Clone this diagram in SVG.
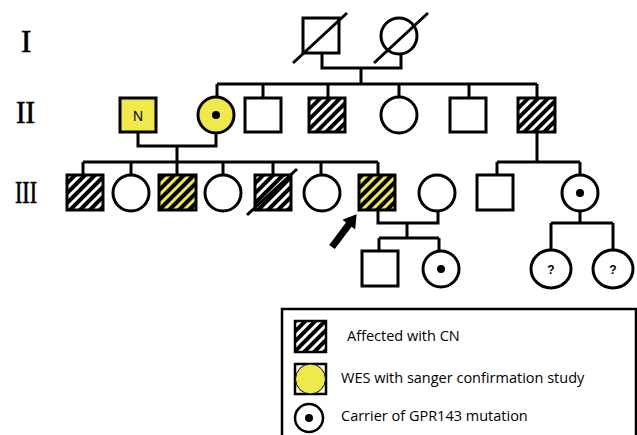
<svg xmlns="http://www.w3.org/2000/svg" width="637" height="435" viewBox="0 0 637 435">
<defs>
<pattern id="hatch" patternUnits="userSpaceOnUse" width="7" height="7" patternTransform="rotate(45)">
<rect x="0" y="0" width="7" height="7" fill="#fff"/>
<rect x="0" y="0" width="4" height="7" fill="#000"/>
</pattern>
<pattern id="hatchY" patternUnits="userSpaceOnUse" width="7" height="7" patternTransform="rotate(45)">
<rect x="0" y="0" width="7" height="7" fill="#efe94a"/>
<rect x="0" y="0" width="4" height="7" fill="#000"/>
</pattern>
</defs>
<style>
.s{fill:#fff;stroke:#000;stroke-width:3}
.h{fill:url(#hatch);stroke:#000;stroke-width:3}
.hy{fill:url(#hatchY);stroke:#000;stroke-width:3}
.y{fill:#efe94a;stroke:#000;stroke-width:3}
.ln{fill:none;stroke:#000;stroke-width:3}
.dot{fill:#000}
.rn{font-family:"Liberation Serif","Times New Roman",serif;font-size:31px;fill:#000;stroke:#000;stroke-width:0.7}
.lg{font-family:"Open Sans","Noto Sans",sans-serif;font-size:14.5px;fill:#000}
.q{font-family:"Liberation Sans",Arial,sans-serif;font-size:12px;font-weight:bold;fill:#000}
</style>
<g id="labels">
<text class="rn" x="21" y="52">I</text>
<text class="rn" x="16" y="123" textLength="19" lengthAdjust="spacingAndGlyphs">II</text>
<text class="rn" x="15" y="203" textLength="22" lengthAdjust="spacingAndGlyphs">III</text>
</g>
<g id="connectors">
<path class="ln" d="M322 53 V68 H401 V54 M361 68 V84 M217 84 H537"/>
<path class="ln" d="M217 84 V97 M263 84 V98 M328 84 V98 M399 84 V97 M469 84 V98 M537 84 V98"/>
<path class="ln" d="M138 132 V146 H216 V133 M177 146 V162 M83 162 H378"/>
<path class="ln" d="M83 162 V175 M131 162 V175 M177 162 V175 M223 162 V175 M273 162 V175 M321 162 V175 M378 162 V175"/>
<path class="ln" d="M378 210 V223 H438 V211 M407 223 V238 M379 238 H439 M379 238 V251 M439 238 V250"/>
<path class="ln" d="M537 132 V162 M497 162 H580 M497 162 V175 M580 162 V175 M580 211 V223 M551 223 H613 M551 223 V250 M613 223 V250"/>
</g>
<g id="I-1"><rect class="s" x="303" y="18" width="36" height="35"/><path class="ln" d="M293 63 L347 13"/></g>
<g id="I-2"><circle class="s" cx="399" cy="36" r="18"/><path class="ln" d="M374 63 L428 13"/></g>
<g id="II-1"><rect class="y" x="120" y="98" width="36" height="34"/><text x="138" y="121" text-anchor="middle" font-family="Liberation Sans,Arial,sans-serif" font-size="14" fill="#000">N</text></g>
<g id="II-2"><circle class="y" cx="216" cy="115" r="18"/><circle class="dot" cx="216" cy="115" r="4"/></g>
<g id="II-3"><rect class="s" x="245" y="98" width="36" height="34"/></g>
<g id="II-4"><rect class="h" x="309" y="98" width="36" height="34"/></g>
<g id="II-5"><circle class="s" cx="399" cy="115" r="18"/></g>
<g id="II-6"><rect class="s" x="450" y="98" width="36" height="34"/></g>
<g id="II-7"><rect class="h" x="518" y="98" width="37" height="34"/></g>
<g id="III-1"><rect class="h" x="67" y="175" width="36" height="35"/></g>
<g id="III-2"><circle class="s" cx="131" cy="193" r="18"/></g>
<g id="III-3"><rect class="hy" x="159" y="175" width="37" height="35"/></g>
<g id="III-4"><circle class="s" cx="223" cy="193" r="18"/></g>
<g id="III-5"><rect class="h" x="255" y="175" width="36" height="35"/><path class="ln" d="M247 215 L297 169"/></g>
<g id="III-6"><circle class="s" cx="322" cy="193" r="18"/></g>
<g id="III-7"><rect class="hy" x="359" y="175" width="36" height="35"/></g>
<g id="III-8"><circle class="s" cx="437" cy="193" r="18"/></g>
<g id="III-9"><rect class="s" x="477" y="175" width="36" height="35"/></g>
<g id="III-10"><circle class="s" cx="580" cy="193" r="18"/><circle class="dot" cx="580" cy="193" r="4"/></g>
<g id="IV-1"><rect class="s" x="362" y="251" width="36" height="35"/></g>
<g id="IV-2"><circle class="s" cx="441" cy="269" r="18"/><circle class="dot" cx="441" cy="269" r="4"/></g>
<g id="IV-3"><ellipse class="s" cx="551" cy="269" rx="20" ry="19"/><text class="q" x="551" y="274" text-anchor="middle">?</text></g>
<g id="IV-4"><ellipse class="s" cx="613" cy="269" rx="20" ry="19"/><text class="q" x="613" y="274" text-anchor="middle">?</text></g>
<g id="proband-arrow"><path d="M334.8 249.1 L351.6 226.7 L355.2 229.4 L356.6 214.2 L342.4 219.8 L346 222.5 L329.2 244.9 Z" fill="#000"/></g>
<g id="legend">
<rect x="282" y="309" width="354" height="140" fill="none" stroke="#000" stroke-width="2.5"/>
<rect class="h" x="295" y="321" width="31" height="31" style="stroke-width:2.5"/>
<text class="lg" x="347" y="341">Affected with CN</text>
<rect x="295" y="364" width="31" height="30" fill="#fff" stroke="#000" stroke-width="2.5"/>
<circle cx="310.5" cy="379" r="15" fill="#efe94a" stroke="#000" stroke-width="1"/>
<text class="lg" x="341" y="383">WES with sanger confirmation study</text>
<circle class="s" cx="309" cy="418" r="14" style="stroke-width:2.5"/>
<circle class="dot" cx="309" cy="418" r="4"/>
<text class="lg" x="341" y="421">Carrier of GPR143 mutation</text>
</g>
</svg>
